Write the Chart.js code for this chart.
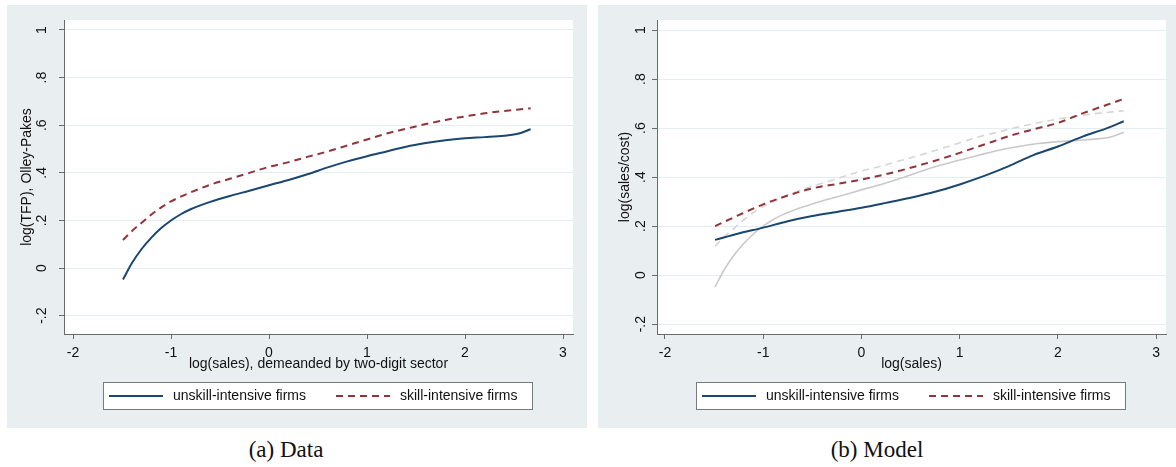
<!DOCTYPE html>
<html>
<head>
<meta charset="utf-8">
<script src="https://cdn.jsdelivr.net/npm/chart.js@4"></script>
<style>
  html, body { margin: 0; padding: 0; background: #fff; }
  body { width: 1176px; height: 467px; position: relative; overflow: hidden; }
  .panel { position: absolute; top: 5px; height: 423px; background: #e9eff1; }
  .panel canvas { display: block; }
  .cap { position: absolute; top: 437px; width: 200px; text-align: center;
         font-family: "Liberation Serif", "DejaVu Serif", serif; font-size: 23px; color: #111; }
</style>
</head>
<body>
<div class="panel" id="pa" style="left:7px;width:580px"><canvas id="chartA" width="580" height="423"></canvas></div>
<div class="panel" id="pb" style="left:598px;width:578px"><canvas id="chartB" width="578" height="423"></canvas></div>
<div class="cap" style="left:186px">(a) Data</div>
<div class="cap" style="left:777px">(b) Model</div>
<script>
// ticks
const xTickValues = [-2, -1, 0, 1, 2, 3];
const yTickValues = [-0.2, 0, 0.2, 0.4, 0.6, 0.8, 1];
const yTickLabels = ['-.2', '0', '.2', '.4', '.6', '.8', '1'];
const seriesLabels = ['unskill-intensive firms', 'skill-intensive firms'];

// (a) data
const dataX       = [-1.49, -1.4, -1.3, -1.2, -1.1, -1.0, -0.9, -0.8, -0.6, -0.4, -0.2, 0, 0.2, 0.4, 0.6, 0.8, 1.0, 1.2, 1.4, 1.6, 1.8, 2.0, 2.2, 2.4, 2.55, 2.67];
const dataUnskill = [-0.048, 0.02, 0.08, 0.128, 0.168, 0.2, 0.226, 0.247, 0.278, 0.303, 0.325, 0.348, 0.37, 0.395, 0.423, 0.448, 0.47, 0.49, 0.51, 0.525, 0.537, 0.545, 0.55, 0.556, 0.565, 0.583];
const dataSkill   = [0.118, 0.155, 0.19, 0.225, 0.255, 0.28, 0.30, 0.318, 0.35, 0.375, 0.40, 0.425, 0.445, 0.468, 0.49, 0.515, 0.54, 0.565, 0.585, 0.605, 0.622, 0.637, 0.65, 0.66, 0.666, 0.671];

// (b) model
const modelX       = [-1.49, -1.25, -1.0, -0.75, -0.5, -0.25, 0, 0.25, 0.5, 0.75, 1.0, 1.25, 1.5, 1.75, 2.0, 2.25, 2.5, 2.67];
const modelUnskill = [0.144, 0.17, 0.194, 0.22, 0.241, 0.258, 0.275, 0.295, 0.316, 0.34, 0.37, 0.405, 0.445, 0.49, 0.525, 0.565, 0.60, 0.628];
const modelSkill   = [0.2, 0.245, 0.289, 0.325, 0.354, 0.372, 0.39, 0.412, 0.438, 0.467, 0.499, 0.533, 0.567, 0.595, 0.621, 0.66, 0.695, 0.719];

const NAVY = '#1a476f', MAROON = '#90353b';
const FONT = '"Liberation Sans", Arial, sans-serif';
const TXT = '#111';

function pts(xs, ys){ return xs.map((x, i) => ({ x, y: ys[i] })); }

// white plot region, rotated y labels, boxed legend
const stataDeco = {
  id: 'stataDeco',
  beforeDraw(chart){
    const {ctx, chartArea: a} = chart;
    ctx.save();
    ctx.fillStyle = '#fff';
    ctx.fillRect(a.left, a.top, a.right - a.left, a.bottom - a.top);
    ctx.restore();
  },
  afterDraw(chart, args, o){
    const {ctx, chartArea: a} = chart;
    const ys = chart.scales.y;
    ctx.save();
    ctx.font = '14px ' + FONT;
    ctx.fillStyle = TXT;
    ctx.textAlign = 'center';
    ctx.textBaseline = 'middle';
    ys.ticks.forEach(t => {
      const py = ys.getPixelForValue(t.value);
      ctx.save();
      ctx.translate(a.left - o.yLabelGap, py);
      ctx.rotate(-Math.PI / 2);
      ctx.fillText(yTickLabels[yTickValues.indexOf(t.value)], 0, 0);
      ctx.restore();
    });

    // legend
    const bw = 429, bh = 27;
    const bx = Math.round((a.left + a.right) / 2 - bw / 2 - 1);
    const by = o.legendTop;
    ctx.fillStyle = '#fff';
    ctx.fillRect(bx, by, bw, bh);
    ctx.strokeStyle = '#7a7a7a';
    ctx.lineWidth = 1;
    ctx.strokeRect(bx + 0.5, by + 0.5, bw, bh);
    const cy = by + bh / 2 + 0.5;
    chart.data.datasets.filter(d => d.inLegend !== false).forEach((d, i) => {
      const lx = bx + 6 + i * 227;
      ctx.strokeStyle = d.borderColor;
      ctx.lineWidth = d.borderWidth;
      ctx.setLineDash(d.borderDash || []);
      ctx.beginPath();
      ctx.moveTo(lx, cy);
      ctx.lineTo(lx + 54, cy);
      ctx.stroke();
      ctx.setLineDash([]);
      ctx.fillStyle = TXT;
      ctx.textAlign = 'left';
      ctx.font = '14px ' + FONT;
      ctx.fillText(d.label, lx + 64, cy);
    });
    ctx.restore();
  }
};

function makeChart(el, datasets, cfg){
  return new Chart(el, {
    type: 'line',
    data: { datasets },
    plugins: [stataDeco],
    options: {
      responsive: false,
      animation: false,
      devicePixelRatio: 1,
      layout: { padding: { left: 0, top: 15, right: cfg.padRight, bottom: 54 } },
      elements: { line: { cubicInterpolationMode: 'monotone' }, point: { radius: 0 } },
      plugins: {
        legend: { display: false },
        tooltip: { enabled: false },
        stataDeco: { yLabelGap: cfg.yLabelGap, legendTop: 377 }
      },
      scales: {
        x: {
          type: 'linear', min: cfg.xMin, max: cfg.xMax,
          afterBuildTicks: s => { s.ticks = xTickValues.map(v => ({ value: v })); },
          afterFit: s => { s.height = 40; },
          border: { display: true, color: '#6a6a6a', width: 1 },
          grid: { drawOnChartArea: false, drawTicks: true, tickLength: 5, tickColor: '#6a6a6a' },
          ticks: { padding: 6, color: TXT, font: { family: FONT, size: 14 }, maxRotation: 0 },
          title: { display: true, text: cfg.xTitle, color: TXT, font: { family: FONT, size: 14 },
                   padding: { top: 0, bottom: 1 } }
        },
        y: {
          type: 'linear', min: cfg.yMin, max: cfg.yMax,
          afterBuildTicks: s => { s.ticks = yTickValues.map(v => ({ value: v })); },
          afterFit: s => { s.width = cfg.yWidth; },
          border: { display: true, color: '#6a6a6a', width: 1 },
          grid: { color: '#e6edf0', lineWidth: 1, drawTicks: true, tickLength: 5, tickColor: '#6a6a6a' },
          ticks: { display: false },
          title: { display: true, text: cfg.yTitle, color: TXT, font: { family: FONT, size: 14 },
                   padding: { top: cfg.yTitlePad, bottom: 0 } }
        }
      }
    }
  });
}

makeChart(document.getElementById('chartA'), [
  { label: seriesLabels[0], data: pts(dataX, dataUnskill), borderColor: NAVY, borderWidth: 2, fill: false },
  { label: seriesLabels[1], data: pts(dataX, dataSkill), borderColor: MAROON, borderWidth: 2, borderDash: [7, 5], fill: false }
], { xMin: -2.092, xMax: 3.102, yMin: -0.277, yMax: 1.042, yWidth: 57, padRight: 14, yLabelGap: 22, yTitlePad: 12,
     xTitle: 'log(sales), demeanded by two-digit sector', yTitle: 'log(TFP), Olley-Pakes' });

makeChart(document.getElementById('chartB'), [
  { label: seriesLabels[0], data: pts(modelX, modelUnskill), borderColor: NAVY, borderWidth: 2, fill: false, order: 1 },
  { label: seriesLabels[1], data: pts(modelX, modelSkill), borderColor: MAROON, borderWidth: 2, borderDash: [7, 5], fill: false, order: 1 },
  { label: 'data unskill', data: pts(dataX, dataUnskill), borderColor: '#c9c9c9', borderWidth: 1.6, fill: false, order: 2, inLegend: false },
  { label: 'data skill', data: pts(dataX, dataSkill), borderColor: '#d6d6d6', borderWidth: 1.6, borderDash: [7, 5], fill: false, order: 2, inLegend: false }
], { xMin: -2.081, xMax: 3.10, yMin: -0.24, yMax: 1.041, yWidth: 59, padRight: 10, yLabelGap: 16, yTitlePad: 19,
     xTitle: 'log(sales)', yTitle: 'log(sales/cost)' });
</script>
</body>
</html>
